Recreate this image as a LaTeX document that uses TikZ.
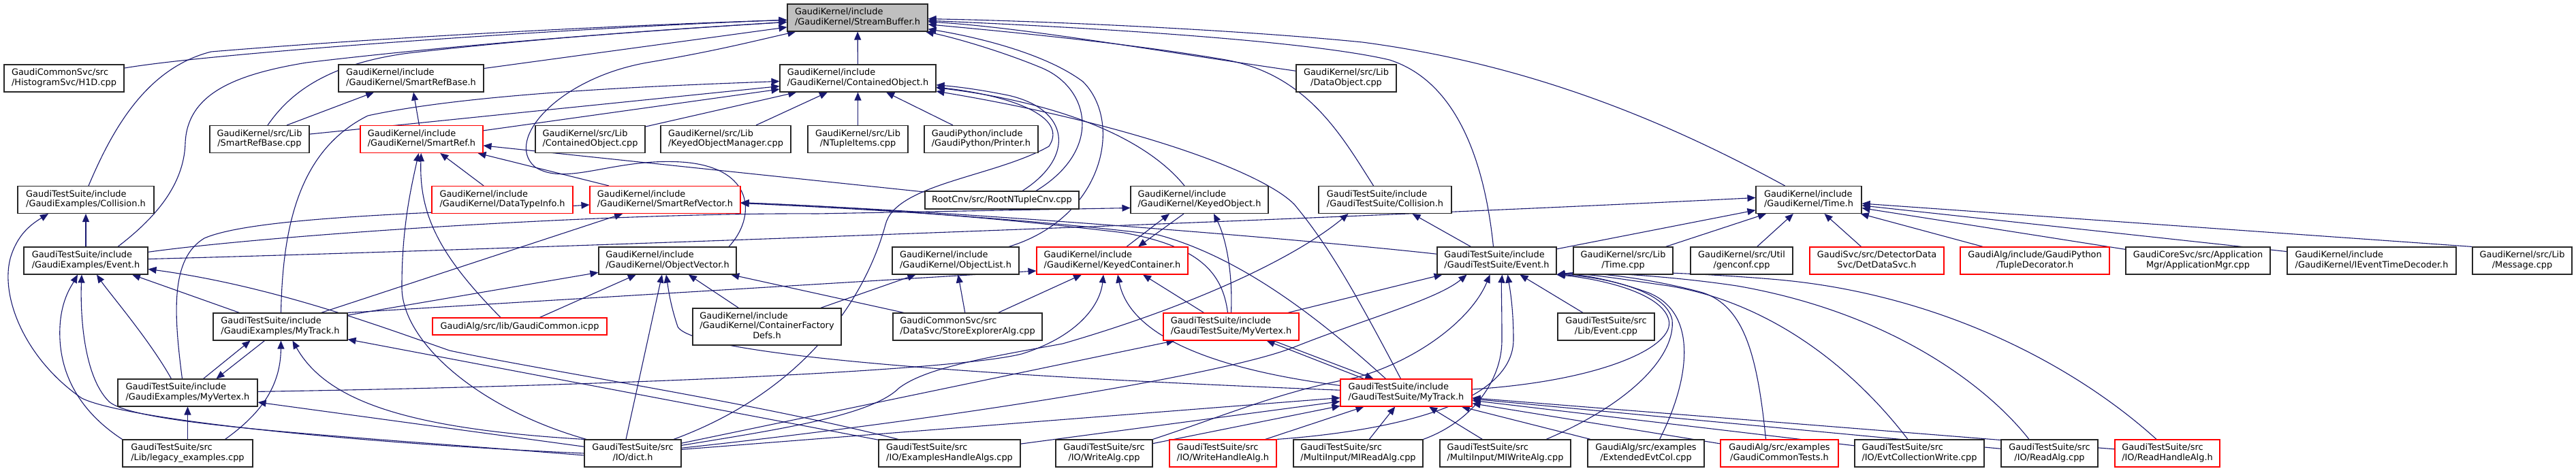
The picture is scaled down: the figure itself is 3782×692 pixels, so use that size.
\documentclass[tikz,border=0pt]{standalone}
\usepackage{fontspec}
\setmainfont{DejaVu Sans}
\usetikzlibrary{arrows.meta}
\definecolor{edgec}{HTML}{191970}
\definecolor{rootfill}{HTML}{BFBFBF}
\newcommand\dfont{\fontsize{12.9}{14.3}\selectfont}
\newcommand\lbltwo[2]{\begin{tabular}{@{}l@{}}#1\\\multicolumn{1}{@{}c@{}}{#2}\end{tabular}}
\newcommand\lblthree[3]{\begin{tabular}{@{}l@{}}#1\\#2\\\multicolumn{1}{@{}c@{}}{#3}\end{tabular}}
\pgfdeclarelayer{back}\pgfdeclarelayer{bg}\pgfsetlayers{back,bg,main}
\begin{document}
\begin{tikzpicture}[x=1pt,y=-1pt,
  box/.style={draw=black!85,line width=1.1pt,fill=white,inner sep=0pt,font=\dfont,text=black,minimum height=40pt},
  rbox/.style={box,draw=red},
  e/.style={draw=edgec,line width=1.1pt,-{Triangle[length=12pt,width=10pt]}},
  W/.style={minimum width=#1pt}, H/.style={minimum height=#1pt}]
\begin{pgfonlayer}{back}
\fill[white] (0,0) rectangle (3782,692);
\end{pgfonlayer}
\useasboundingbox (0,0) rectangle (3782,692);
% row 1
\node[box,fill=rootfill,W=206] (SB) at (1259,26) {\lbltwo{GaudiKernel/include}{/GaudiKernel/StreamBuffer.h}};
% row 2
\node[box,W=176] (H1D) at (94,115) {\lbltwo{GaudiCommonSvc/src}{/HistogramSvc/H1D.cpp}};
\node[box,W=213] (SRBh) at (603.5,115) {\lbltwo{GaudiKernel/include}{/GaudiKernel/SmartRefBase.h}};
\node[box,W=229] (COh) at (1259.5,115) {\lbltwo{GaudiKernel/include}{/GaudiKernel/ContainedObject.h}};
\node[box,W=147] (DOcpp) at (1976.5,115) {\lbltwo{GaudiKernel/src/Lib}{/DataObject.cpp}};
% row 3
\node[box,W=146] (SRBcpp) at (381,204.5) {\lbltwo{GaudiKernel/src/Lib}{/SmartRefBase.cpp}};
\node[rbox,W=180] (SRh) at (619,204.5) {\lbltwo{GaudiKernel/include}{/GaudiKernel/SmartRef.h}};
\node[box,W=161] (COcpp) at (866.5,204.5) {\lbltwo{GaudiKernel/src/Lib}{/ContainedObject.cpp}};
\node[box,W=191] (KOMcpp) at (1065.5,204.5) {\lbltwo{GaudiKernel/src/Lib}{/KeyedObjectManager.cpp}};
\node[box,W=147] (NTcpp) at (1259.5,204.5) {\lbltwo{GaudiKernel/src/Lib}{/NTupleItems.cpp}};
\node[box,W=167] (Printer) at (1440.5,204.5) {\lbltwo{GaudiPython/include}{/GaudiPython/Printer.h}};
% row 4
\node[box,W=200] (GECol) at (126,293.5) {\lbltwo{GaudiTestSuite/include}{/GaudiExamples/Collision.h}};
\node[rbox,W=207] (DTI) at (737.5,293.5) {\lbltwo{GaudiKernel/include}{/GaudiKernel/DataTypeInfo.h}};
\node[rbox,W=221] (SRV) at (976.5,293.5) {\lbltwo{GaudiKernel/include}{/GaudiKernel/SmartRefVector.h}};
\node[box,W=226,H=26] (RNT) at (1471,294) {RootCnv/src/RootNTupleCnv.cpp};
\node[box,W=202] (KOh) at (1761,293.5) {\lbltwo{GaudiKernel/include}{/GaudiKernel/KeyedObject.h}};
\node[box,W=195] (GTSCol) at (2033.5,293.5) {\lbltwo{GaudiTestSuite/include}{/GaudiTestSuite/Collision.h}};
\node[box,W=155] (Timeh) at (2655.5,293.5) {\lbltwo{GaudiKernel/include}{/GaudiKernel/Time.h}};
% row 5
\node[box,W=182] (GEEvt) at (126,383) {\lbltwo{GaudiTestSuite/include}{/GaudiExamples/Event.h}};
\node[box,W=202] (OVh) at (980,383) {\lbltwo{GaudiKernel/include}{/GaudiKernel/ObjectVector.h}};
\node[box,W=186] (OLh) at (1403,383) {\lbltwo{GaudiKernel/include}{/GaudiKernel/ObjectList.h}};
\node[rbox,W=222] (KCh) at (1633,383) {\lbltwo{GaudiKernel/include}{/GaudiKernel/KeyedContainer.h}};
\node[box,W=175] (GTSEvt) at (2197.5,383) {\lbltwo{GaudiTestSuite/include}{/GaudiTestSuite/Event.h}};
\node[box,W=146] (Timecpp) at (2383,383) {\lbltwo{GaudiKernel/src/Lib}{/Time.cpp}};
\node[box,W=150] (genconf) at (2557,383) {\lbltwo{GaudiKernel/src/Util}{/genconf.cpp}};
\node[rbox,W=197] (DetData) at (2755.5,383) {\lbltwo{GaudiSvc/src/DetectorData}{Svc/DetDataSvc.h}};
\node[rbox,W=219] (TupleDec) at (2987.5,383) {\lbltwo{GaudiAlg/include/GaudiPython}{/TupleDecorator.h}};
\node[box,W=212] (AppMgr) at (3227,383) {\lbltwo{GaudiCoreSvc/src/Application}{Mgr/ApplicationMgr.cpp}};
\node[box,W=248] (IETD) at (3482,383) {\lbltwo{GaudiKernel/include}{/GaudiKernel/IEventTimeDecoder.h}};
\node[box,W=146] (Message) at (3703,383) {\lbltwo{GaudiKernel/src/Lib}{/Message.cpp}};
% row 6
\node[box,W=197] (GEMyTrack) at (411.5,480) {\lbltwo{GaudiTestSuite/include}{/GaudiExamples/MyTrack.h}};
\node[rbox,W=256,H=25] (GCicpp) at (763,479.5) {GaudiAlg/src/lib/GaudiCommon.icpp};
\node[box,W=218,H=54] (CFD) at (1126,480) {\lblthree{GaudiKernel/include}{/GaudiKernel/ContainerFactory}{Defs.h}};
\node[box,W=219] (SEA) at (1420.5,480) {\lbltwo{GaudiCommonSvc/src}{/DataSvc/StoreExplorerAlg.cpp}};
\node[rbox,W=199] (GTSMyVertex) at (1807.5,480) {\lbltwo{GaudiTestSuite/include}{/GaudiTestSuite/MyVertex.h}};
\node[box,W=142] (LibEvtcpp) at (2358,480) {\lbltwo{GaudiTestSuite/src}{/Lib/Event.cpp}};
% row 7
\node[box,W=205] (GEMyVertex) at (275.5,577) {\lbltwo{GaudiTestSuite/include}{/GaudiExamples/MyVertex.h}};
\node[rbox,W=193] (GTSMyTrack) at (2064.5,577) {\lbltwo{GaudiTestSuite/include}{/GaudiTestSuite/MyTrack.h}};
% row 8
\node[box,W=191] (legacy) at (275.5,666) {\lbltwo{GaudiTestSuite/src}{/Lib/legacy\_examples.cpp}};
\node[box,W=142] (dict) at (929,666) {\lbltwo{GaudiTestSuite/src}{/IO/dict.h}};
\node[box,W=208] (EHA) at (1394,666) {\lbltwo{GaudiTestSuite/src}{/IO/ExamplesHandleAlgs.cpp}};
\node[box,W=142] (WriteAlg) at (1621,666) {\lbltwo{GaudiTestSuite/src}{/IO/WriteAlg.cpp}};
\node[rbox,W=157] (WHA) at (1795.5,666) {\lbltwo{GaudiTestSuite/src}{/IO/WriteHandleAlg.h}};
\node[box,W=190] (MIRead) at (1994,666) {\lbltwo{GaudiTestSuite/src}{/MultiInput/MIReadAlg.cpp}};
\node[box,W=192] (MIWrite) at (2210,666) {\lbltwo{GaudiTestSuite/src}{/MultiInput/MIWriteAlg.cpp}};
\node[box,W=171] (ExtEvt) at (2416.5,666) {\lbltwo{GaudiAlg/src/examples}{/ExtendedEvtCol.cpp}};
\node[rbox,W=173] (GCT) at (2612.5,666) {\lbltwo{GaudiAlg/src/examples}{/GaudiCommonTests.h}};
\node[box,W=190] (ECW) at (2818,666) {\lbltwo{GaudiTestSuite/src}{/IO/EvtCollectionWrite.cpp}};
\node[box,W=142] (ReadAlg) at (3009,666) {\lbltwo{GaudiTestSuite/src}{/IO/ReadAlg.cpp}};
\node[rbox,W=154] (RHA) at (3182,666) {\lbltwo{GaudiTestSuite/src}{/IO/ReadHandleAlg.h}};

\begin{pgfonlayer}{bg}
% ---- into StreamBuffer.h
\draw[e] (H1D) .. controls (330,75) and (900,38) .. (SB);
\draw[e] ([xshift=4pt]GECol.north) .. controls (165,190) and (215,100) .. (310,76) .. controls (600,52) and (950,36) .. (SB);
\draw[e] ([xshift=47pt]GEEvt.north) .. controls (215,330) and (270,280) .. (272,210) .. controls (275,140) and (340,110) .. (450,92) .. controls (700,62) and (1000,42) .. (SB);
\draw[e] ([xshift=12pt]SRBcpp.north) .. controls (420,145) and (470,95) .. (600,78) .. controls (800,55) and (1000,42) .. (SB);
\draw[e] (SRBh) -- (SB);
\draw[e] (COh) -- (SB);
\draw[e] ([xshift=90pt]OVh.north) .. controls (1110,320) and (1110,245) .. (1000,238) .. controls (900,232) and (830,275) .. (785,245) .. controls (740,205) and (820,115) .. (950,92) .. controls (1050,75) and (1100,62) .. (SB);
\draw[e] (DOcpp) .. controls (1700,75) and (1500,40) .. (SB);
\draw[e] ([xshift=-17pt]GTSCol.north) .. controls (1970,200) and (1920,110) .. (1800,88) .. controls (1650,62) and (1450,44) .. (SB);
\draw[e] ([xshift=-5pt]GTSEvt.north) .. controls (2180,240) and (2140,120) .. (2040,88) .. controls (1900,55) and (1500,36) .. (SB);
\draw[e] ([xshift=-35pt]Timeh.north) .. controls (2450,180) and (2250,95) .. (2000,62) .. controls (1800,42) and (1500,30) .. (SB);
\draw[e] ([xshift=78pt]OLh.north) .. controls (1620,320) and (1650,180) .. (1590,120) .. controls (1530,75) and (1420,52) .. (SB);
\draw[e] ([xshift=50pt]RNT.north) .. controls (1620,220) and (1600,130) .. (1530,100) .. controls (1470,75) and (1400,55) .. (SB);
% ---- into SmartRefBase.h
\draw[e] ([xshift=40pt]SRBcpp.north) -- (SRBh);
\draw[e] (SRh) -- (SRBh);
% ---- into ContainedObject.h
\draw[e] (SRBcpp) -- (COh);
\draw[e] (SRh) -- (COh);
\draw[e] ([xshift=1pt]GEMyTrack.north) .. controls (415,330) and (440,220) .. (540,170) .. controls (700,135) and (1000,125) .. (COh);
\draw[e] (COcpp) -- (COh);
\draw[e] (KOMcpp) -- (COh);
\draw[e] (NTcpp) -- (COh);
\draw[e] (Printer) -- (COh);
\draw[e] ([xshift=30pt]RNT.north) .. controls (1580,230) and (1570,160) .. (1480,140) .. controls (1430,130) and (1400,127) .. (COh);
\draw[e] ([xshift=60pt]dict.north) .. controls (1180,575) and (1270,440) .. (1300,330) .. controls (1315,270) and (1460,260) .. (1540,215) .. controls (1570,170) and (1480,140) .. (COh);
\draw[e] ([xshift=-22pt]KOh.north) .. controls (1680,200) and (1550,150) .. (COh);
\draw[e] ([xshift=-8pt]GTSMyTrack.north) .. controls (1990,430) and (1950,360) .. (1900,300) .. controls (1850,250) and (1650,180) .. (COh);
% ---- into SmartRef.h
\draw[e] (DTI) -- (SRh);
\draw[e] (SRV) -- (SRh);
\draw[e] (RNT) -- (SRh);
\draw[e] ([xshift=-28pt]GCicpp.north) .. controls (650,380) and (615,320) .. (SRh);
\draw[e] ([xshift=-68pt]dict.north) .. controls (700,600) and (588,500) .. (590,420) .. controls (590,330) and (605,270) .. (SRh);
% ---- into SmartRefVector.h
\draw[e] ([xshift=-8pt]GEMyVertex.north) .. controls (255,460) and (250,380) .. (300,350) .. controls (380,315) and (700,312) .. (SRV);
\draw[e] ([xshift=60pt]GEMyTrack.north) -- (SRV);
\draw[e] (GTSEvt) .. controls (1900,350) and (1400,310) .. (SRV);
\draw[e] ([xshift=-30pt]GTSMyTrack.north) .. controls (1950,480) and (1830,380) .. (1700,345) .. controls (1500,320) and (1250,306) .. (SRV);
\draw[e] ([xshift=-5pt]GTSMyVertex.north) .. controls (1795,400) and (1760,362) .. (1650,342) .. controls (1450,318) and (1250,304) .. (SRV);
% ---- into KeyedObject.h
\draw[e] (GEEvt) .. controls (400,345) and (900,312) .. (1200,314) -- ([yshift=-12pt]KOh.west);
\draw[e] ([xshift=21pt]KCh.north) -- ([xshift=-44pt]KOh.south);
\draw[e] ([xshift=0pt]GTSMyVertex.north) .. controls (1810,400) and (1800,350) .. ([xshift=21pt]KOh.south);
% ---- into KeyedContainer.h
\draw[e] ([xshift=-23pt]KOh.south) -- ([xshift=38pt]KCh.north);
\draw[e] (GEMyTrack.north east) -- ([yshift=-15pt]KCh.west);
\draw[e] (SEA) -- (KCh);
\draw[e] (GEMyVertex) .. controls (900,567) and (1400,545) .. (1500,520) .. controls (1580,495) and (1615,450) .. ([xshift=-13pt]KCh.south);
\draw[e] ([yshift=-10pt]GTSMyTrack.north west) .. controls (1800,545) and (1660,500) .. ([xshift=8pt]KCh.south);
\draw[e] ([xshift=-40pt]GTSMyVertex.north) -- ([xshift=45pt]KCh.south);
% ---- into ObjectVector.h
\draw[e] ([xshift=-10pt]dict.north) -- ([xshift=-8pt]OVh.south);
\draw[e] (CFD) -- (OVh);
\draw[e] (SEA) -- (OVh);
\draw[e] (GEMyTrack) -- (OVh);
\draw[e] (GCicpp) -- (OVh);
\draw[e] (GTSMyTrack) .. controls (1500,555) and (1020,525) .. (995,480) .. controls (985,450) and (982,430) .. ([xshift=-2pt]OVh.south);
% ---- into ObjectList.h
\draw[e] (CFD) -- (OLh);
\draw[e] (SEA) -- (OLh);
% ---- into GaudiExamples/Collision.h
\draw[e] (GEEvt) -- (GECol);
\draw[e] (dict.west) .. controls (500,650) and (180,615) .. (120,585) .. controls (40,530) and (0,440) .. (15,380) .. controls (25,345) and (45,330) .. ([xshift=-55pt]GECol.south);
% ---- into GaudiExamples/Event.h
\draw[e] ([xshift=-60pt]GEMyTrack.north) -- ([xshift=68pt]GEEvt.south);
\draw[e] ([xshift=-24pt]GEMyVertex.north) .. controls (220,500) and (160,430) .. ([xshift=16pt]GEEvt.south);
\draw[e] (legacy.north west) .. controls (110,600) and (85,540) .. (88,480) .. controls (90,440) and (105,420) .. ([xshift=-12pt]GEEvt.south);
\draw[e] ([yshift=-3pt]dict.west) .. controls (500,640) and (200,625) .. (160,590) .. controls (120,550) and (118,450) .. ([xshift=-6pt]GEEvt.south);
\draw[e] ([xshift=-75pt]EHA.north) .. controls (1100,590) and (800,545) .. (660,515) .. controls (560,480) and (400,420) .. (GEEvt);
% ---- into GaudiExamples/MyTrack.h
\draw[e] ([xshift=23pt]GEMyVertex.north) -- ([xshift=-44pt]GEMyTrack.south);
\draw[e] ([xshift=55pt]legacy.north) .. controls (380,610) and (412,570) .. ([xshift=1pt]GEMyTrack.south);
\draw[e] (dict.north west) .. controls (600,630) and (480,590) .. ([xshift=18pt]GEMyTrack.south);
\draw[e] (EHA) -- (GEMyTrack);
% ---- into GaudiExamples/MyVertex.h
\draw[e] ([xshift=-23pt]GEMyTrack.south) -- ([xshift=42pt]GEMyVertex.north);
\draw[e] (legacy) -- (GEMyVertex);
\draw[e] (dict) -- (GEMyVertex);
% ---- into GaudiTestSuite/Collision.h
\draw[e] ([xshift=-38pt]GTSEvt.north) -- ([xshift=40pt]GTSCol.south);
\draw[e] (dict) .. controls (1150,630) and (1280,610) .. (1320,570) .. controls (1360,540) and (1450,525) .. (1560,505) .. controls (1750,450) and (1900,380) .. ([xshift=-54pt]GTSCol.south);
% ---- into GaudiTestSuite/Event.h
\draw[e] (GTSMyVertex) -- ([xshift=-80pt]GTSEvt.south);
\draw[e] ([yshift=5pt]GTSMyTrack.east) .. controls (2350,560) and (2460,510) .. (2450,470) .. controls (2440,430) and (2350,410) .. (GTSEvt.south east);
\draw[e] (LibEvtcpp) -- (GTSEvt);
\draw[e] (dict) .. controls (1400,615) and (1800,550) .. (1900,510) .. controls (2000,470) and (2110,440) .. ([xshift=-44pt]GTSEvt.south);
\draw[e] (WriteAlg.north east) .. controls (1800,610) and (1880,575) .. (1990,555) .. controls (2080,530) and (2160,470) .. ([xshift=-10pt]GTSEvt.south);
\draw[e] (WHA.north east) .. controls (2020,635) and (2220,600) .. (2222,500) .. controls (2222,450) and (2216,420) .. ([xshift=16pt]GTSEvt.south);
\draw[e] (MIRead.north east) .. controls (2160,620) and (2205,560) .. (2205,500) .. controls (2205,450) and (2204,420) .. ([xshift=8pt]GTSEvt.south);
\draw[e] ([xshift=60pt]MIWrite.north) .. controls (2400,590) and (2460,520) .. (2455,470) .. controls (2445,420) and (2330,405) .. (GTSEvt.south east);
\draw[e] ([xshift=20pt]ExtEvt.north) .. controls (2480,560) and (2495,460) .. (2420,430) .. controls (2370,412) and (2320,402) .. (GTSEvt.south east);
\draw[e] ([xshift=-20pt]GCT.north) .. controls (2580,520) and (2560,450) .. (2500,430) .. controls (2420,408) and (2330,398) .. (GTSEvt.south east);
\draw[e] ([xshift=-17pt]ECW.north) .. controls (2720,540) and (2600,445) .. (2450,420) .. controls (2380,410) and (2320,400) .. (GTSEvt.south east);
\draw[e] ([xshift=-30pt]ReadAlg.north) .. controls (2920,570) and (2780,460) .. (2550,420) .. controls (2450,405) and (2330,398) .. (GTSEvt.south east);
\draw[e] ([xshift=-16pt]RHA.north) .. controls (3050,540) and (2850,430) .. (2600,410) .. controls (2480,400) and (2340,396) .. (GTSEvt.south east);
% ---- into GaudiTestSuite/MyVertex.h
\draw[e] (dict) -- ([xshift=-83pt]GTSMyVertex.south);
\draw[e] ([xshift=-62pt]GTSMyTrack.north) -- ([xshift=52pt]GTSMyVertex.south);
% ---- into GaudiTestSuite/MyTrack.h
\draw[e] ([xshift=62pt]GTSMyVertex.south) -- ([xshift=-48pt]GTSMyTrack.north);
\draw[e] (dict) -- (GTSMyTrack);
\draw[e] (EHA) -- (GTSMyTrack);
\draw[e] (WriteAlg) -- (GTSMyTrack);
\draw[e] (WHA) -- (GTSMyTrack);
\draw[e] (MIRead) -- (GTSMyTrack);
\draw[e] (MIWrite) -- (GTSMyTrack);
\draw[e] (ExtEvt) -- (GTSMyTrack);
\draw[e] (GCT) -- (GTSMyTrack);
\draw[e] (ECW) -- (GTSMyTrack);
\draw[e] (ReadAlg) -- (GTSMyTrack);
\draw[e] (RHA) -- (GTSMyTrack);
% ---- into Time.h
\draw[e] (GEEvt) .. controls (800,365) and (2000,320) .. ([yshift=3pt]Timeh.west);
\draw[e] (GTSEvt) -- (Timeh);
\draw[e] (Timecpp) -- (Timeh);
\draw[e] (genconf) -- (Timeh);
\draw[e] (DetData) -- (Timeh);
\draw[e] (TupleDec) -- (Timeh);
\draw[e] (AppMgr) -- (Timeh);
\draw[e] (IETD) -- (Timeh);
\draw[e] (Message.north west) -- (Timeh);
\end{pgfonlayer}
\end{tikzpicture}
\end{document}
